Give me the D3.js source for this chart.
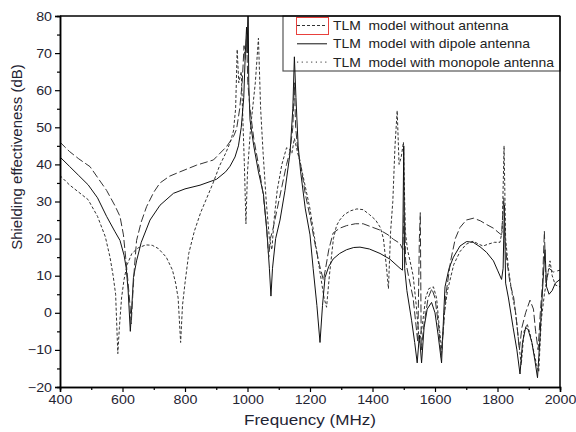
<!DOCTYPE html>
<html>
<head>
<meta charset="utf-8">
<script src="https://cdn.jsdelivr.net/npm/d3@7"></script>
<style>
  body { margin: 0; background: #fff; }
  text { font-family: Arial, "Liberation Sans", sans-serif; }
</style>
</head>
<body>
<div id="chart"></div>
<script>
// TLM model without antenna (short dash)
const freqNone = [400,430,460,490,520,545,560,570,578,585,590,597,605,615,630,650,675,695,715,740,760,770,778,786,792,800,812,830,850,870,890,910,930,945,955,962,967,972,980,990,995,1000,1010,1025,1035,1042,1050,1060,1070,1078,1085,1095,1110,1125,1135,1142,1150,1158,1170,1185,1200,1215,1230,1245,1253,1262,1275,1285,1295,1310,1330,1350,1370,1390,1410,1425,1435,1445,1451,1458,1465,1472,1479,1485,1492,1499,1505,1512,1520,1530,1540,1550,1560,1570,1580,1595,1605,1615,1622,1630,1640,1660,1680,1700,1722,1740,1754,1770,1790,1808,1815,1821,1826,1835,1845,1858,1868,1876,1885,1895,1905,1915,1925,1932,1940,1950,1960,1968,1975,1985,2000];
const seNone = [37,34.5,32.5,30.5,26,20.5,15,10,5,-11,-4,4,9,13,16,17.5,18.3,18.2,17.3,15,11.5,8,4,-8,2,8,16,22,27,31,35,39.5,43,46,49,55,71,62,65,40,24,38,50,62,74,55,43,30,20,17,25,33,40,44.5,44,43,47,44,40,34,28,20,12,4,1.5,10,20,23.5,25,26.5,27.5,28,27.8,26.5,25,23,20,12,6.5,22,30,45,54.5,40,42,46,22,17,14,10,2,-8,-3,4,6.5,7,4,-5,-10,0,6,13,16.5,18.5,19.3,18.5,18,18.5,19,19,22,45,20,12,6,0,-8,-14,-5,-3,-6,-10,-14,-16,-2,5,10,14,10,7.5,7];

// TLM model with dipole antenna (solid)
const freqDipole = [400,430,460,490,520,549,575,592,605,612,618,625,630,635,645,660,688,720,763,800,848,901,930,944,960,971,980,988,993,997,999,1002,1004,1008,1020,1035,1051,1062,1070,1075,1080,1090,1104,1120,1136,1145,1150,1155,1162,1170,1185,1200,1210,1222,1232,1240,1248,1260,1274,1295,1317,1340,1360,1390,1424,1455,1488,1496,1500,1503,1510,1525,1535,1543,1550,1557,1565,1575,1589,1600,1610,1621,1628,1632,1645,1659,1680,1701,1722,1744,1765,1787,1800,1813,1818,1822,1826,1835,1850,1862,1872,1880,1890,1898,1910,1920,1928,1935,1940,1946,1952,1957,1965,1975,1985,2000];
const seDipole = [42,39.5,37,34.5,31,26,22,19.5,15.5,12,6,-5,2,9.5,14,19,25,29,32.2,33.4,34.4,36,38,39.5,42,45,50,58,70,77,70,85,62,52,45,38,32,22,12,4.5,12,20,25,33,43,55,69,58,45,38,28,21,12,2,-8,2,9.5,12.5,14.5,16,17,17.6,17.7,17.2,16,14.5,12,11.5,45,12,6,-2,-8,-13.5,-6,-13.5,-4,1,2.8,0,-6,-13.5,0,7,12,15,18,19.2,19,17.8,16.3,14,11.5,9,12,29,8,4,-4,-10,-16.5,-8,-4,-4.5,-8,-13,-17.5,-8,0,9,17,7,5,6,8,9];

// TLM model with monopole antenna (long dash)
const freqMono = [400,430,460,496,520,549,575,592,603,610,618,624,628,633,638,645,660,677,700,720,750,784,837,891,933,955,965,975,983,989,993,997,1001,1008,1020,1035,1050,1060,1068,1073,1080,1095,1110,1125,1136,1145,1150,1154,1162,1168,1185,1200,1215,1230,1243,1250,1260,1274,1295,1317,1345,1370,1395,1424,1450,1467,1488,1497,1502,1506,1515,1530,1545,1550,1553,1556,1565,1578,1590,1600,1612,1620,1628,1635,1650,1665,1680,1700,1723,1745,1765,1787,1805,1813,1820,1824,1830,1840,1852,1862,1870,1878,1890,1904,1915,1922,1930,1937,1944,1950,1955,1965,1979,2000];
const seMono = [46,43.5,41.5,39.4,36.5,33,29,26,21,15,8,2,-3,5,12,19.5,24.5,28.6,32.5,35,36.8,38,39.8,41.2,44.8,47.5,49.5,55,62,72,68,75,62,55,47,40,32,24,15,20,22,28,34,40,43.5,50,62,50,43,41,32,26,19,13,8.8,12,17,21.5,22.8,23.5,24,24,23.2,22.3,21,19.8,18.7,17,30,14,10,4,-8,20,27,-10,-3,4,6.5,4,-4,-12,-3,5,14,20,23,25,25.5,24.8,23.8,22.8,21.5,21,31,20,14,8,4,-3,-10,-4,0,3.4,1,-5,-10,0,8,22,8,12,11,11.5];

const legendLabels = ["TLM  model without antenna", "TLM  model with dipole antenna", "TLM  model with monopole antenna"];
const xTicks = [400, 600, 800, 1000, 1200, 1400, 1600, 1800, 2000];
const yTicks = [-20, -10, 0, 10, 20, 30, 40, 50, 60, 70, 80];

const width = 576, height = 432;
const margin = { top: 16, right: 16, bottom: 45, left: 60 };
const stretch = 1.14; // the original picture is a little wider than tall

const svg = d3.select("#chart").append("svg")
    .attr("width", width)
    .attr("height", height);

const x = d3.scaleLinear().domain([400, 2000]).range([margin.left, width - margin.right]);
const y = d3.scaleLinear().domain([-20, 80]).range([height - margin.bottom, margin.top]);

svg.append("clipPath").attr("id", "plot")
    .append("rect")
    .attr("x", x(400)).attr("y", y(80))
    .attr("width", x(2000) - x(400)).attr("height", y(-20) - y(80));

// legend box sits under the curves
const legend = svg.append("g");
legend.append("rect")
    .attr("x", 283).attr("y", y(80))
    .attr("width", x(2000) - 283).attr("height", 55)
    .attr("fill", "none")
    .attr("stroke", "#555")
    .attr("stroke-width", 1.2);

const styles = [
    { dash: "3,2", color: "#333", legendDash: "3,2" },
    { dash: null, color: "#111", legendDash: null },
    { dash: "8,3", color: "#333", legendDash: "1.2,3.5" }
];

legendLabels.forEach((label, i) => {
    const cy = 25.5 + i * 18.3;
    legend.append("line")
        .attr("x1", 297).attr("x2", 327)
        .attr("y1", cy).attr("y2", cy)
        .attr("stroke", styles[i].color)
        .attr("stroke-width", 1)
        .attr("stroke-dasharray", styles[i].legendDash);
    legend.append("text")
        .attr("transform", `translate(333,${cy + 4.5}) scale(${stretch},1)`)
        .style("font-size", "12.2px")
        .style("fill", "#222")
        .style("white-space", "pre")
        .text(label);
});
legend.append("rect")
    .attr("x", 296.5).attr("y", 17.5)
    .attr("width", 32).attr("height", 17)
    .attr("fill", "none")
    .attr("stroke", "#e8403c")
    .attr("stroke-width", 1);

const line = d3.line()
    .x(d => x(d[0]))
    .y(d => y(d[1]));

const series = [
    d3.zip(freqNone, seNone),
    d3.zip(freqDipole, seDipole),
    d3.zip(freqMono, seMono)
];

svg.append("g")
    .attr("clip-path", "url(#plot)")
    .selectAll("path")
    .data(series)
    .join("path")
    .attr("d", line)
    .attr("fill", "none")
    .attr("stroke", (d, i) => styles[i].color)
    .attr("stroke-width", 1)
    .attr("stroke-dasharray", (d, i) => styles[i].dash);

// axes
svg.append("g")
    .attr("transform", `translate(0,${y(-20)})`)
    .call(d3.axisBottom(x).tickValues(xTicks).tickSize(5).tickPadding(3).tickFormat(d3.format("d")));
svg.append("g")
    .attr("transform", `translate(0,${y(-20)})`)
    .call(d3.axisBottom(x).tickValues(d3.range(500, 2000, 200)).tickSize(3).tickFormat(""));

svg.append("g")
    .attr("transform", `translate(${x(400)},0)`)
    .call(d3.axisLeft(y).tickValues(yTicks).tickSize(5).tickPadding(3));
svg.append("g")
    .attr("transform", `translate(${x(400)},0)`)
    .call(d3.axisLeft(y).tickValues(d3.range(-15, 80, 10)).tickSize(3).tickFormat(""));

svg.selectAll(".domain").attr("stroke", "#000").attr("stroke-width", 1.5);
svg.selectAll(".tick line").attr("stroke", "#000").attr("stroke-width", 1.2);
svg.selectAll(".tick text")
    .style("font-size", "12.5px")
    .style("font-family", "Arial, 'Liberation Sans', sans-serif")
    .style("fill", "#1f2433")
    .each(function() {
        const t = d3.select(this);
        const tx = +t.attr("x") || 0, ty = +t.attr("y") || 0;
        t.attr("x", null).attr("y", null)
            .attr("transform", `translate(${tx},${ty}) scale(${stretch},1)`);
    });

// frame top and right
svg.append("line")
    .attr("x1", x(400)).attr("x2", x(2000))
    .attr("y1", y(80)).attr("y2", y(80))
    .attr("stroke", "#000").attr("stroke-width", 1.5);
svg.append("line")
    .attr("x1", x(2000)).attr("x2", x(2000))
    .attr("y1", y(80)).attr("y2", y(-20))
    .attr("stroke", "#000").attr("stroke-width", 1.5);

svg.append("text")
    .attr("transform", `translate(310,425) scale(${stretch},1)`)
    .attr("text-anchor", "middle")
    .style("font-size", "15px")
    .style("fill", "#1f2433")
    .text("Frequency (MHz)");

svg.append("text")
    .attr("transform", "translate(22,157) rotate(-90)")
    .attr("text-anchor", "middle")
    .style("font-size", "15px")
    .style("fill", "#1f2433")
    .text("Shielding effectiveness (dB)");
</script>
</body>
</html>
